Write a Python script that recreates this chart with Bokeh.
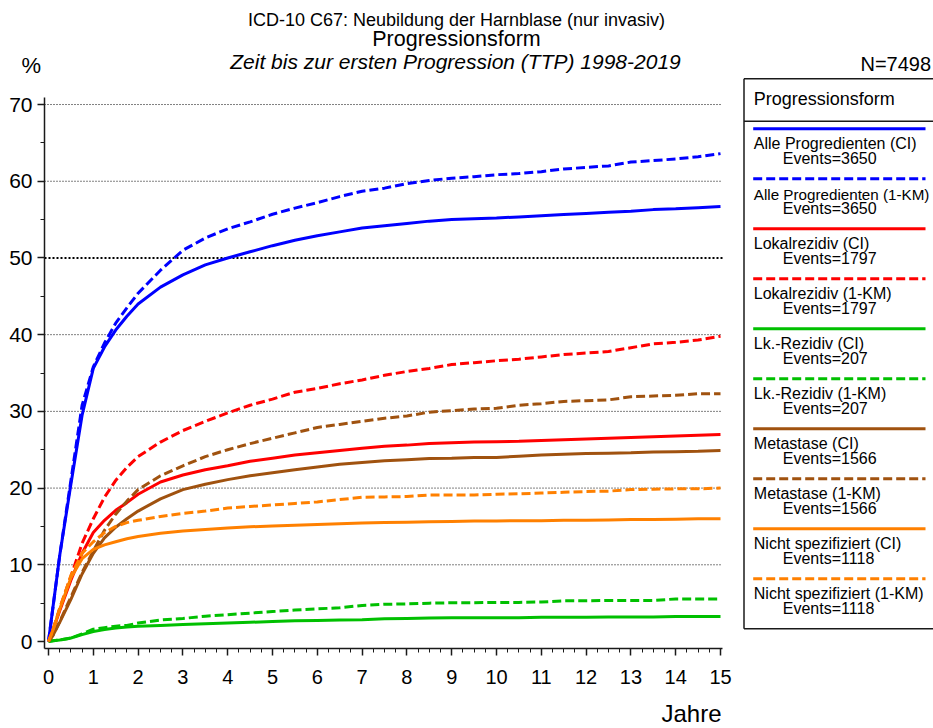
from bokeh.plotting import figure
from bokeh.models import Range1d, FixedTicker
from bokeh.core.properties import value
from bokeh.embed import file_html
from bokeh.resources import INLINE

# ---------------- data ----------------
years = [0, 0.1, 0.25, 0.5, 0.75, 1, 1.25, 1.5, 1.75, 2, 2.5, 3, 3.5, 4, 4.5, 5, 5.5, 6,
         6.5, 7, 7.5, 8, 8.5, 9, 9.5, 10, 10.5, 11, 11.5, 12, 12.5, 13, 13.5, 14, 14.5, 15]

alle_ci = [0, 4.5, 11.2, 20.5, 29.5, 35.6, 38.4, 40.6, 42.4, 44.0, 46.2, 47.8, 49.1, 50.0, 50.8,
           51.6, 52.3, 52.9, 53.4, 53.9, 54.2, 54.5, 54.8, 55.0, 55.1, 55.2, 55.35, 55.5, 55.65,
           55.8, 55.95, 56.1, 56.3, 56.4, 56.55, 56.7]
alle_km = [0, 4.5, 11.2, 21.0, 30.8, 35.8, 38.9, 41.5, 43.5, 45.4, 48.4, 51.0, 52.6, 53.8, 54.7,
           55.7, 56.5, 57.2, 58.0, 58.7, 59.1, 59.7, 60.1, 60.4, 60.6, 60.85, 61.0, 61.25, 61.6,
           61.8, 62.0, 62.5, 62.7, 62.9, 63.2, 63.6]
lokal_ci = [0, 1.5, 4.0, 8.0, 11.5, 14.2, 15.8, 17.1, 18.1, 19.2, 20.8, 21.7, 22.4, 22.9, 23.5,
            23.9, 24.3, 24.6, 24.9, 25.2, 25.45, 25.6, 25.8, 25.9, 26.0, 26.05, 26.1, 26.2, 26.3,
            26.4, 26.5, 26.6, 26.7, 26.8, 26.9, 27.0]
lokal_km = [0, 1.5, 4.3, 8.5, 12.8, 16.0, 18.8, 21.0, 22.7, 24.1, 26.0, 27.5, 28.7, 29.8, 30.8,
            31.6, 32.5, 33.0, 33.6, 34.1, 34.7, 35.2, 35.6, 36.1, 36.35, 36.6, 36.8, 37.1, 37.4,
            37.6, 37.8, 38.3, 38.8, 39.0, 39.3, 39.8]
lk_ci = [0, 0.1, 0.2, 0.45, 0.9, 1.3, 1.55, 1.75, 1.9, 2.0, 2.1, 2.2, 2.3, 2.4, 2.5, 2.6, 2.7,
         2.75, 2.8, 2.85, 2.95, 3.0, 3.05, 3.1, 3.1, 3.1, 3.1, 3.15, 3.15, 3.15, 3.2, 3.2, 3.2,
         3.25, 3.25, 3.25]
lk_km = [0, 0.1, 0.2, 0.45, 1.0, 1.6, 1.8, 2.0, 2.1, 2.4, 2.8, 3.0, 3.3, 3.5, 3.7, 3.9, 4.1,
         4.25, 4.4, 4.7, 4.85, 4.9, 5.0, 5.05, 5.05, 5.1, 5.1, 5.15, 5.3, 5.3, 5.35, 5.35, 5.35,
         5.55, 5.55, 5.55]
meta_ci = [0, 0.8, 2.5, 5.5, 8.8, 11.5, 13.5, 14.9, 16.0, 17.0, 18.6, 19.8, 20.5, 21.1, 21.6,
           22.0, 22.4, 22.75, 23.1, 23.35, 23.55, 23.7, 23.85, 23.9, 24.0, 24.0, 24.15, 24.3,
           24.4, 24.5, 24.55, 24.6, 24.7, 24.75, 24.8, 24.9]
meta_km = [0, 0.8, 2.6, 5.8, 9.0, 11.8, 14.5, 16.6, 18.3, 19.8, 21.6, 22.9, 24.1, 25.0, 25.8,
           26.5, 27.2, 27.9, 28.3, 28.7, 29.1, 29.4, 29.9, 30.1, 30.3, 30.4, 30.8, 31.0, 31.3,
           31.4, 31.5, 31.9, 32.0, 32.1, 32.3, 32.3]
nicht_ci = [0, 1.5, 4.2, 8.3, 10.8, 12.0, 12.6, 13.0, 13.4, 13.7, 14.1, 14.4, 14.6, 14.8, 14.95,
            15.05, 15.15, 15.25, 15.35, 15.45, 15.5, 15.55, 15.6, 15.65, 15.7, 15.7, 15.75,
            15.75, 15.8, 15.8, 15.85, 15.9, 15.9, 15.95, 16.0, 16.0]
nicht_km = [0, 1.5, 4.3, 8.6, 11.5, 13.0, 14.2, 15.0, 15.5, 15.8, 16.3, 16.7, 17.0, 17.4, 17.6,
            17.8, 18.0, 18.2, 18.5, 18.8, 18.85, 18.9, 19.1, 19.1, 19.1, 19.2, 19.25, 19.35,
            19.45, 19.55, 19.6, 19.8, 19.85, 19.9, 19.9, 20.0]

series_names = ["Alle Progredienten (CI)", "Alle Progredienten (1-KM)",
                "Lokalrezidiv (CI)", "Lokalrezidiv (1-KM)",
                "Lk.-Rezidiv (CI)", "Lk.-Rezidiv (1-KM)",
                "Metastase (CI)", "Metastase (1-KM)",
                "Nicht spezifiziert (CI)", "Nicht spezifiziert (1-KM)"]
series_events = [3650, 3650, 1797, 1797, 207, 207, 1566, 1566, 1118, 1118]
series_values = [alle_ci, alle_km, lokal_ci, lokal_km, lk_ci, lk_km,
                 meta_ci, meta_km, nicht_ci, nicht_km]

x_ticks = list(range(0, 16))
y_ticks = [0, 10, 20, 30, 40, 50, 60, 70]
grid_values = [10, 20, 30, 40, 60, 70]
bold_grid_values = [50]

title1 = "ICD-10 C67: Neubildung der Harnblase (nur invasiv)"
title2 = "Progressionsform"
title3 = "Zeit bis zur ersten Progression (TTP) 1998-2019"
n_text = "N=7498"
x_title = "Jahre"
y_title = "%"

# ---------------- styles / geometry ----------------
FONT = "Liberation Sans"
colors = ["#0000FF", "#0000FF", "#FF0000", "#FF0000", "#00C000", "#00C000",
          "#A0520F", "#A0520F", "#FF8000", "#FF8000"]
dashes = ["solid", "9 4"] * 5
legend_sizes = [16, 15.2, 16, 16, 16, 16, 16, 16, 16, 16]   # widest label kept inside page
AX = "#1a1a1a"
W, H = 933, 728

# page-pixel geometry: x=0 at 48px, 44.8 px/year; y=0 at 641px, 7.671 px per percent
X0, PXY = 48.0, 44.8
Y0, PXP = 641.0, 7.671


def dx(X):
    return (X - X0) / PXY


def dy(Y):
    return (Y0 - Y) / PXP


FRAME_L, FRAME_R, FRAME_T, FRAME_B = 44, 722, 97, 648

p = figure(width=W, height=H, output_backend="svg", toolbar_location=None,
           x_range=Range1d(dx(0), dx(W)), y_range=Range1d(dy(H), dy(0)), min_border=0)
p.outline_line_color = None
p.background_fill_color = "white"
p.grid.visible = False

# axes placed at the edges of the chart area
p.xaxis.fixed_location = dy(FRAME_B)
p.xaxis.bounds = (dx(FRAME_L), dx(FRAME_R))
p.yaxis.fixed_location = dx(FRAME_L)
p.yaxis.bounds = (dy(FRAME_B), dy(FRAME_T))
p.xaxis.ticker = FixedTicker(ticks=x_ticks, minor_ticks=[i * 0.25 for i in range(61)])
p.yaxis.ticker = FixedTicker(ticks=y_ticks, minor_ticks=[5, 15, 25, 35, 45, 55, 65])
for ax, fs in ((p.xaxis, "20px"), (p.yaxis, "21px")):
    ax.axis_line_color = AX
    ax.axis_line_width = 1.5
    ax.major_tick_line_color = AX
    ax.minor_tick_line_color = AX
    ax.major_tick_line_width = 1.5
    ax.minor_tick_line_width = 1
    ax.major_tick_out = 7
    ax.major_tick_in = 0
    ax.minor_tick_out = 4
    ax.minor_tick_in = 0
    ax.major_label_text_font = FONT
    ax.major_label_text_font_size = fs
    ax.major_label_text_color = "black"
p.xaxis.major_label_standoff = 14
p.yaxis.major_label_standoff = 5

# horizontal dotted reference lines
gx0, gx1 = dx(FRAME_L), dx(FRAME_R)
p.segment(x0=[gx0] * len(grid_values), y0=grid_values, x1=[gx1] * len(grid_values),
          y1=grid_values, line_color="black", line_width=1, line_dash="1 2")
p.segment(x0=[gx0], y0=bold_grid_values, x1=[gx1], y1=bold_grid_values,
          line_color="black", line_width=2, line_dash="2 2")

# curves
for vals, col, dsh in zip(series_values, colors, dashes):
    p.line(years, vals, line_color=col, line_width=3, line_dash=dsh)


def txt(X, Ybase, s, size, align="left", style="normal"):
    # Ybase: wanted glyph baseline in page pixels; bokeh's text box sits ~0.33em lower
    Y = Ybase - 0.33 * size
    p.text(x=[dx(X)], y=[dy(Y)], text=[s], text_font=value(FONT),
           text_font_size=value("%gpx" % size), text_font_style=style, text_align=align,
           text_baseline="alphabetic", text_color="black")


# titles and axis captions
txt(456, 25, title1, 18, "center")
txt(456, 46, title2, 21.5, "center")
txt(455, 68, title3, 21, "center", "italic")
txt(21, 72, y_title, 22)
txt(860, 70, n_text, 20)
txt(721, 721, x_title, 24, "right")

# legend box
bl, bt, bs, bb, br = dx(743.5), dy(78.3), dy(120.7), dy(628.3), dx(W + 5)
p.segment(x0=[bl, bl, bl, bl], y0=[bt, bs, bb, bt], x1=[br, br, br, bl], y1=[bt, bs, bb, bb],
          line_color=AX, line_width=1.5)
txt(753.3, 104, title2, 18)
for i, (name, ev, col, dsh, fs) in enumerate(zip(series_names, series_events, colors,
                                                  dashes, legend_sizes)):
    Yl = 128.3 + 50 * i
    p.line([dx(752.7), dx(925)], [dy(Yl), dy(Yl)], line_color=col, line_width=3, line_dash=dsh)
    txt(753.3, Yl + 20.4, name, fs)
    txt(782.3, Yl + 35, "Events=%d" % ev, 16)

open("out.html", "w").write(file_html(p, INLINE))
